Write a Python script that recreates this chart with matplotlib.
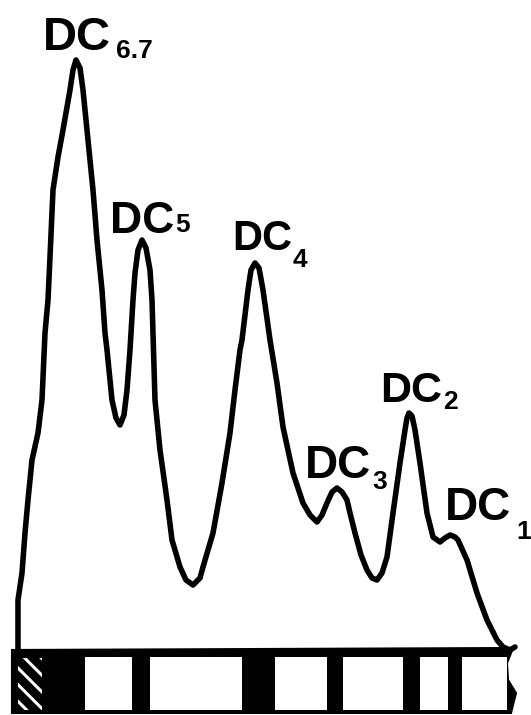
import matplotlib
import matplotlib.pyplot as plt
from matplotlib.patches import Rectangle, Polygon

matplotlib.use('Agg')
plt.rcParams['hatch.linewidth'] = 2.2

# densitometer trace: scan position and optical density (arbitrary units, baseline = 0)
scan_pos = [18, 18, 18, 22, 25, 28, 32, 38, 42, 45, 48, 50, 53, 58, 63, 70, 73, 76, 80, 83,
            88, 93, 97, 102, 105, 107, 112, 116, 120, 124, 127, 130, 133, 135, 138, 142, 146, 150,
            152, 155, 160, 167, 172, 180, 186, 193, 200, 203, 213, 222, 230, 235, 240, 242, 248,
            251, 255, 259, 263, 270, 277, 283, 293, 303, 310, 317, 322, 327, 332, 337, 342, 347,
            350, 355, 361, 367, 372, 377, 382, 387, 393, 400, 405, 407, 409, 412, 415, 420, 427,
            433, 440, 445, 450, 455, 458, 467, 477, 487, 497, 503, 510, 515]
density = [0, 30, 50, 77, 117, 150, 190, 217, 250, 317, 350, 393, 460, 493, 520, 560, 580, 590,
           582, 560, 510, 460, 410, 360, 317, 300, 250, 232, 225, 235, 260, 300, 350, 377, 400,
           410, 402, 380, 350, 250, 200, 150, 110, 83, 70, 65, 72, 83, 117, 167, 217, 260, 300,
           310, 360, 380, 387, 382, 360, 310, 267, 223, 177, 147, 135, 128, 135, 147, 158, 162,
           158, 150, 137, 117, 95, 80, 72, 70, 77, 93, 137, 187, 220, 232, 237, 234, 220, 187,
           137, 113, 108, 112, 115, 113, 110, 90, 57, 30, 10, 3, 0, 3]

# fractions on the strip
fractions = ['6.7', '5', '4', '3', '2', '1']

# clear windows in the electrophoresis strip (start, end along scan)
window_start = [85, 150, 275, 343, 420, 462]
window_end = [132, 242, 327, 403, 448, 507]

# layout of the labels: "DC" left x and baseline y, subscript baseline y and size
dc_xy = [(43, 600), (110, 417), (232, 400), (305, 172), (380, 248), (445, 130)]
dc_size = [34, 32, 30, 33, 31, 33]
sub_y = [592, 418, 383, 161, 241, 111]
sub_gap = [5, 1, 1, 1, 1, 5]

fig = plt.figure(figsize=(5.31, 7.15), dpi=100)
ax = fig.add_axes([0, 0, 1, 1])
ax.set_xlim(0, 531)
ax.set_ylim(-65, 650)
ax.axis('off')

ax.plot(scan_pos, density, color='black', lw=4, solid_joinstyle='round', solid_capstyle='round')

# strip beneath the trace
strip = Polygon([(12, 0), (513, 2), (507, -13), (508, -30), (516, -43), (511, -63), (12, -63)],
                closed=True, facecolor='black', edgecolor='black', lw=1.5)
ax.add_patch(strip)
for s, e in zip(window_start, window_end):
    ax.add_patch(Rectangle((s, -60), e - s, 53, facecolor='white', edgecolor='none'))
ax.add_patch(Rectangle((18, -60), 24, 52, facecolor='black', edgecolor='white',
                       hatch='\\\\', lw=0))

font = 'Liberation Sans'
for i, frac in enumerate(fractions):
    dc = ax.text(dc_xy[i][0], dc_xy[i][1], 'DC', fontsize=dc_size[i], fontweight='bold',
                 family=font, ha='left', va='baseline')
    ax.annotate(frac, xy=(1, sub_y[i]), xycoords=(dc, 'data'),
                xytext=(sub_gap[i], 0), textcoords='offset pixels',
                fontsize=19, fontweight='bold', family=font, ha='left', va='baseline')

fig.savefig('out.png', dpi=100, facecolor='white')
